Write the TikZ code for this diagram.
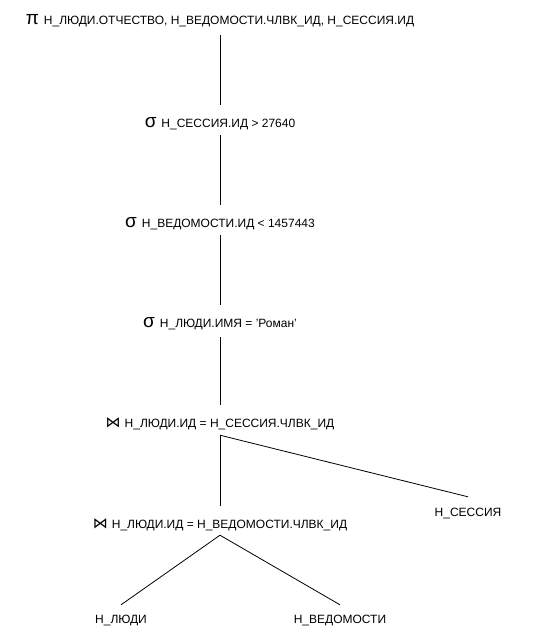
\documentclass[tikz,border=0pt]{standalone}
\usepackage{fontspec}
\setmainfont{Liberation Sans}
\newfontfamily\symfont{DejaVu Sans}
\newcommand{\bigsym}[1]{{\fontsize{19}{20}\selectfont #1}\hspace{5pt}}
\newcommand{\joinsym}{{\symfont\fontsize{15}{16}\selectfont ⋈}\hspace{4pt}}
\begin{document}
\begin{tikzpicture}[x=1pt,y=-1pt,
  op/.style={anchor=base, inner sep=0pt, text height=22pt, text depth=8pt,
             font=\fontsize{12}{14}\selectfont},
  leaf/.style={anchor=base, inner sep=0pt, text height=18pt, text depth=4pt,
             font=\fontsize{12}{14}\selectfont},
  edge/.style={draw=black, line width=0.8pt}]
\useasboundingbox (0,0) rectangle (537,642);
\fill[white] (0,0) rectangle (537,642);

\node[op, text depth=10pt] (pi) at (220,25) {\bigsym{π}Н\_ЛЮДИ.ОТЧЕСТВО, Н\_ВЕДОМОСТИ.ЧЛВК\_ИД, Н\_СЕССИЯ.ИД};
\node[op] (s1) at (220,127) {\bigsym{σ}Н\_СЕССИЯ.ИД > 27640};
\node[op] (s2) at (220,227) {\bigsym{σ}Н\_ВЕДОМОСТИ.ИД < 1457443};
\node[op, text depth=10pt] (s3) at (220,327) {\bigsym{σ}Н\_ЛЮДИ.ИМЯ = 'Роман'};
\node[op] (j1) at (220,427) {\joinsym Н\_ЛЮДИ.ИД = Н\_СЕССИЯ.ЧЛВК\_ИД};
\node[op, text depth=7pt] (j2) at (220,528) {\joinsym Н\_ЛЮДИ.ИД = Н\_ВЕДОМОСТИ.ЧЛВК\_ИД};
\node[leaf, text height=19pt] (sess) at (468,516) {Н\_СЕССИЯ};
\node[leaf] (ludi) at (121,623) {Н\_ЛЮДИ};
\node[leaf] (ved) at (340,623) {Н\_ВЕДОМОСТИ};

\draw[edge] (pi.south) -- (s1.north);
\draw[edge] (s1.south) -- (s2.north);
\draw[edge] (s2.south) -- (s3.north);
\draw[edge] (s3.south) -- (j1.north);
\draw[edge] (j1.south) -- (j2.north);
\draw[edge] (j1.south) -- (sess.north);
\draw[edge] (j2.south) -- (ludi.north);
\draw[edge] (j2.south) -- (ved.north);
\end{tikzpicture}
\end{document}
